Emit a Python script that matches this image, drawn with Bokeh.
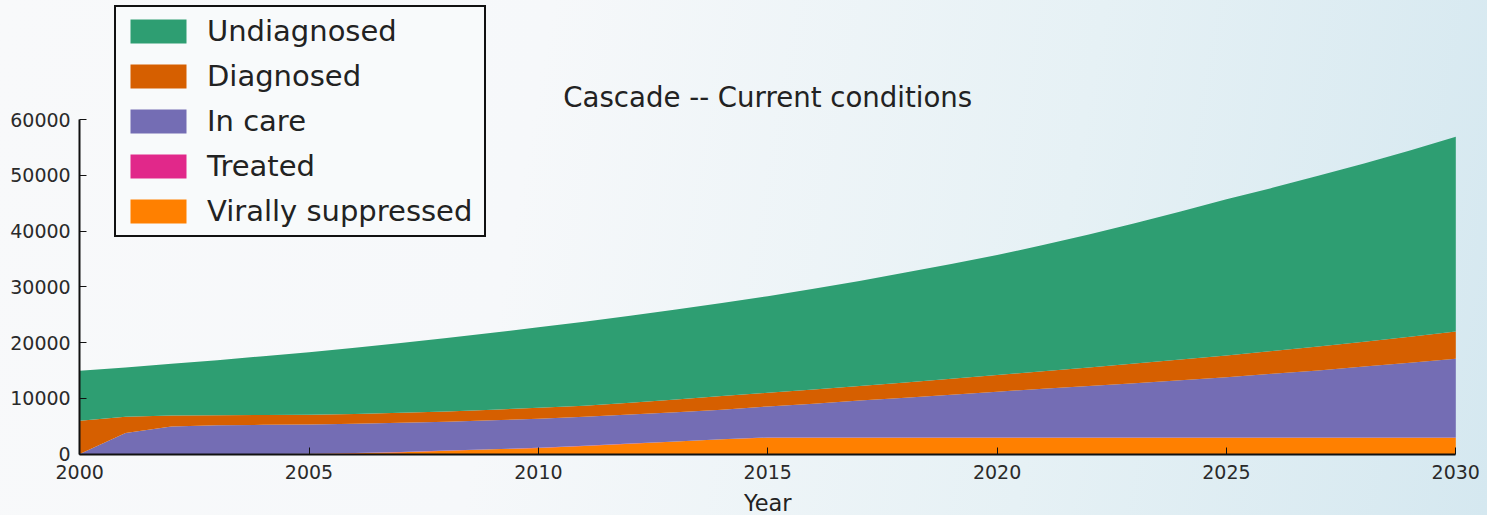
from bokeh.plotting import figure
from bokeh.models import ColumnDataSource, Range1d, Label, Legend, LegendItem, FixedTicker
from bokeh.embed import file_html
from bokeh.resources import INLINE

years = list(range(2000, 2031))
virally_suppressed = [0, 0, 0, 0, 0, 50, 150, 350, 600, 850, 1100, 1450, 1850, 2250, 2650, 2950,
                      2950, 2950, 2950, 2950, 2950, 2950, 2950, 2950, 2950, 2950, 2950, 2950, 2950, 2950, 2950]
treated = [0] + [30] * 30
in_care = [0, 3740, 4910, 5140, 5220, 5250, 5270, 5220, 5170, 5170, 5220, 5220, 5220, 5220, 5270, 5570,
           6070, 6620, 7120, 7670, 8220, 8720, 9220, 9720, 10270, 10820, 11420, 12020, 12720, 13420, 14120]
diagnosed = [6000, 2930, 1960, 1780, 1750, 1720, 1750, 1800, 1850, 1900, 1950, 1950, 2100, 2300, 2450, 2450,
             2550, 2600, 2750, 2850, 3000, 3150, 3350, 3550, 3700, 3900, 4100, 4300, 4450, 4650, 4900]
undiagnosed = [8950, 8850, 9300, 9900, 10550, 11200, 11850, 12500, 13150, 13800, 14450, 15100, 15600, 16150,
               16700, 17300, 18050, 18850, 19700, 20600, 21500, 22650, 23850, 25150, 26550, 28000, 29250,
               30600, 31950, 33400, 34900]

names = ["Virally suppressed", "Treated", "In care", "Diagnosed", "Undiagnosed"]
colors = ["#ff8000", "#e1288a", "#746db4", "#d65f00", "#2e9e72"]
x_ticks = [2000, 2005, 2010, 2015, 2020, 2025, 2030]
y_ticks = [0, 10000, 20000, 30000, 40000, 50000, 60000]
title_text = "Cascade -- Current conditions"
x_label = "Year"

src = ColumnDataSource(dict(year=years, vs=virally_suppressed, tr=treated, ic=in_care,
                            dg=diagnosed, ud=undiagnosed))

W, H = 1487, 515
# frame fills the figure; axes are pinned at x=2000 / y=0
x0_px, x1_px = 79.2, 1455.3      # screen x of 2000 and 2030
y0_px, y1_px = 453.6, 119.0      # screen y (from top) of 0 and 60000
xs = (x1_px - x0_px) / 30.0
ys = (y0_px - y1_px) / 60000.0
x_start = 2000 - x0_px / xs
x_end = 2030 + (W - x1_px) / xs
y_start = -(H - y0_px) / ys
y_end = 60000 + y1_px / ys

p = figure(width=W, height=H, output_backend="svg", toolbar_location=None,
           x_range=Range1d(x_start, x_end), y_range=Range1d(y_start, y_end),
           min_border_left=0, min_border_right=0, min_border_top=0, min_border_bottom=0)
p.stylesheets = [":host { background: linear-gradient(100deg, #f8f9fa 0%, #f6f8fa 35%, #e6f1f5 70%, #d5e8f0 100%); }"]
p.background_fill_alpha = 0
p.border_fill_alpha = 0
p.outline_line_color = None
p.grid.visible = False

rs = p.varea_stack(stackers=["vs", "tr", "ic", "dg", "ud"], x="year", color=colors, source=src)

p.xaxis.fixed_location = 0
p.yaxis.fixed_location = 2000
p.xaxis.bounds = (2000, 2030)
p.yaxis.bounds = (0, 60000)
for ax in (p.xaxis[0], p.yaxis[0]):
    ax.axis_line_color = "#111111"
    ax.axis_line_width = 2
    ax.major_tick_in = 7
    ax.major_tick_out = 0
    ax.major_tick_line_color = "#111111"
    ax.minor_tick_line_color = None
    ax.major_label_text_font = "DejaVu Sans"
    ax.major_label_text_font_size = "19px"
    ax.major_label_text_color = "#2a2a2a"
p.xaxis.ticker = FixedTicker(ticks=x_ticks)
p.yaxis.ticker = FixedTicker(ticks=y_ticks)
p.xaxis.major_label_standoff = 11
p.yaxis.major_label_standoff = 9

items = [LegendItem(label=names[i], renderers=[rs[i]]) for i in [4, 3, 2, 1, 0]]
legend = Legend(items=items, location=(114, 278), orientation="vertical",
                border_line_color="#111111", border_line_width=2, border_line_alpha=1,
                background_fill_color="#f8fafb", background_fill_alpha=1,
                padding=7, spacing=11, margin=0,
                glyph_width=70, glyph_height=30, label_height=30, label_width=270,
                label_standoff=14, label_text_font="DejaVu Sans", label_text_font_size="29px",
                label_text_color="#222222")
p.add_layout(legend, "center")

p.add_layout(Label(x=2015, y=64000, text=title_text, text_align="center",
                   text_baseline="middle", text_font="DejaVu Sans", text_font_size="27.6px",
                   text_color="#222222"))
p.add_layout(Label(x=2015, y=-8750, text=x_label, text_align="center", text_baseline="middle",
                   text_font="DejaVu Sans", text_font_size="22.5px", text_color="#222222"))

open("out.html", "w").write(file_html(p, INLINE))
